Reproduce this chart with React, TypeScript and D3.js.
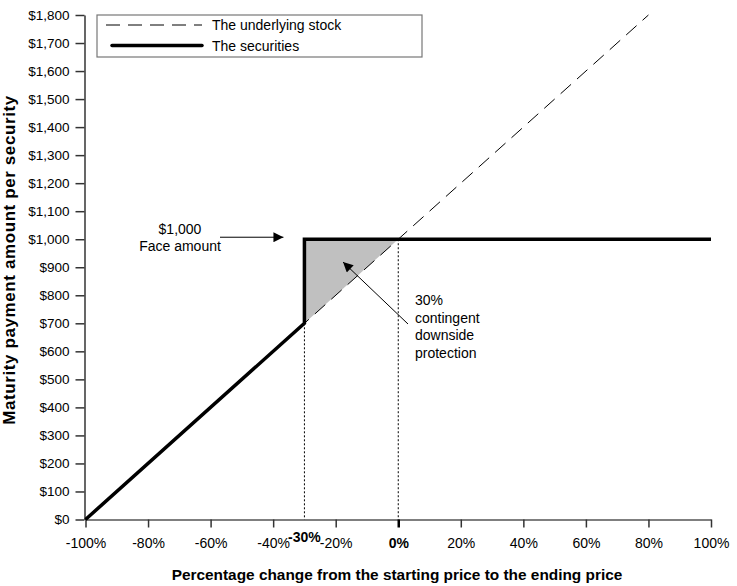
import React, { useEffect, useRef } from 'react';
import * as d3 from 'd3';

// Percentage change of the stock (x) and maturity payment (y)
const stockX = [-100, 80];
const stockY = [0, 1800];
const securitiesX = [-100, -30, -30, 100];
const securitiesY = [0, 700, 1000, 1000];
const protectionX = [-30, -30, 0];
const protectionY = [700, 1000, 1000];

const xTicks = [-100, -80, -60, -40, -20, 0, 20, 40, 60, 80, 100];
const yTicks = [0, 100, 200, 300, 400, 500, 600, 700, 800, 900, 1000, 1100, 1200, 1300, 1400, 1500, 1600, 1700, 1800];
const barrierX = -30;
const barrierY = 700;
const faceAmount = 1000;

const legendItems = ['The underlying stock', 'The securities'];
const protectionText = ['30%', 'contingent', 'downside', 'protection'];

const FONT = "'Liberation Sans', Arial, sans-serif";

export default function App() {
  const svgRef = useRef<SVGSVGElement>(null);

  useEffect(() => {
    if (!svgRef.current) return;
    const svg = d3.select(svgRef.current);
    svg.selectAll('*').remove();

    const x = d3.scaleLinear().domain([-100, 100]).range([85.5, 711]);
    const y = d3.scaleLinear().domain([0, 1800]).range([519.5, 15]);

    svg.append('rect').attr('width', 737).attr('height', 586).attr('fill', '#fff');

    const defs = svg.append('defs');
    defs.append('marker')
      .attr('id', 'arrow')
      .attr('viewBox', '0 0 10 10')
      .attr('refX', 10)
      .attr('refY', 5)
      .attr('markerWidth', 17)
      .attr('markerHeight', 10)
      .attr('markerUnits', 'userSpaceOnUse')
      .attr('orient', 'auto')
      .append('path')
      .attr('d', 'M0,0 L10,5 L0,10 Z')
      .attr('fill', '#000');

    // Shaded protection area
    const area = d3.line<number>()
      .x((_, i) => x(protectionX[i]))
      .y(d => y(d));
    svg.append('path')
      .attr('d', area(protectionY) + 'Z')
      .attr('fill', '#c0c0c0');

    // Dotted reference lines
    [barrierX, 0].forEach(v => {
      svg.append('line')
        .attr('x1', x(v)).attr('x2', x(v))
        .attr('y1', y(v === 0 ? faceAmount : barrierY)).attr('y2', y(0))
        .attr('stroke', '#000')
        .attr('stroke-width', 1)
        .attr('stroke-dasharray', '2,2');
    });

    // Axes
    const yAxis = svg.append('g')
      .attr('transform', `translate(${x(-100) - 1},0)`)
      .call(d3.axisLeft(y).tickValues(yTicks).tickSize(9).tickSizeOuter(0)
        .tickFormat(d => '$' + d3.format(',')(d as number)));
    yAxis.select('.domain').attr('stroke', '#000').attr('stroke-width', 1.2);
    yAxis.selectAll('.tick line').attr('stroke', '#333').attr('stroke-width', 1.5);
    yAxis.selectAll('.tick text')
      .attr('x', -15)
      .attr('fill', '#000')
      .style('font-family', FONT)
      .style('font-size', '13.5px');

    const xAxis = svg.append('g')
      .attr('transform', `translate(0,${y(0)})`)
      .call(d3.axisBottom(x).tickValues(xTicks).tickSize(8).tickSizeOuter(0)
        .tickFormat(d => `${d}%`));
    xAxis.select('.domain').attr('stroke', '#000').attr('stroke-width', 1.2);
    xAxis.selectAll('.tick line').attr('stroke', '#333').attr('stroke-width', 1.5);
    xAxis.selectAll('.tick text')
      .attr('y', 19)
      .attr('fill', '#000')
      .style('font-family', FONT)
      .style('font-size', '14px')
      .style('font-weight', d => ((d as number) === 0 ? 'bold' : 'normal'));
    xAxis.selectAll('.tick line').filter(d => (d as number) === 0).attr('stroke', '#000').attr('stroke-width', 2.5);

    // -30% label
    svg.append('text')
      .attr('x', x(barrierX))
      .attr('y', y(0) + 22.5)
      .attr('text-anchor', 'middle')
      .style('font-family', FONT)
      .style('font-size', '14px')
      .style('font-weight', 'bold')
      .text(`${barrierX}%`);

    // Lines
    svg.append('path')
      .attr('d', d3.line<number>().x((_, i) => x(stockX[i])).y(d => y(d))(stockY))
      .attr('fill', 'none')
      .attr('stroke', '#000')
      .attr('stroke-width', 1)
      .attr('stroke-dasharray', '14,8');

    svg.append('path')
      .attr('d', d3.line<number>().x((_, i) => x(securitiesX[i])).y(d => y(d))(securitiesY))
      .attr('fill', 'none')
      .attr('stroke', '#000')
      .attr('stroke-width', 3.5)
      .attr('stroke-linejoin', 'miter');

    // Annotations
    svg.append('line')
      .attr('x1', 220).attr('y1', y(faceAmount) - 2)
      .attr('x2', x(barrierX) - 21).attr('y2', y(faceAmount) - 2)
      .attr('stroke', '#000').attr('stroke-width', 1)
      .attr('marker-end', 'url(#arrow)');
    const faceLabel = svg.append('text')
      .attr('text-anchor', 'middle')
      .style('font-family', FONT)
      .style('font-size', '14px');
    faceLabel.append('tspan').attr('x', 180).attr('y', 234).text('$1,000');
    faceLabel.append('tspan').attr('x', 180).attr('y', 251).text('Face amount');

    svg.append('line')
      .attr('x1', 408).attr('y1', 324)
      .attr('x2', 343).attr('y2', 262)
      .attr('stroke', '#000').attr('stroke-width', 1)
      .attr('marker-end', 'url(#arrow)');
    const protLabel = svg.append('text')
      .style('font-family', FONT)
      .style('font-size', '14px');
    protectionText.forEach((t, i) => {
      protLabel.append('tspan').attr('x', 415).attr('y', 305 + i * 17.5).text(t);
    });

    // Legend
    const lg = svg.append('g');
    lg.append('rect')
      .attr('x', 97).attr('y', 15).attr('width', 325).attr('height', 42)
      .attr('fill', '#fff').attr('stroke', '#777').attr('stroke-width', 1.2);
    legendItems.forEach((label, i) => {
      const ly = 25 + i * 20.5;
      lg.append('line')
        .attr('x1', i === 0 ? 106 : 112).attr('x2', 202)
        .attr('y1', ly).attr('y2', ly)
        .attr('stroke', '#000')
        .attr('stroke-width', i === 0 ? 1 : 3.5)
        .attr('stroke-linecap', i === 0 ? 'butt' : 'round')
        .attr('stroke-dasharray', i === 0 ? '14,8' : null);
      lg.append('text')
        .attr('x', 212).attr('y', ly + 5)
        .style('font-family', FONT)
        .style('font-size', '14px')
        .text(label);
    });

    // Axis titles
    svg.append('text')
      .attr('x', 397).attr('y', 580)
      .attr('text-anchor', 'middle')
      .style('font-family', FONT)
      .style('font-size', '15.4px')
      .style('font-weight', 'bold')
      .text('Percentage change from the starting price to the ending price');

    svg.append('text')
      .attr('transform', 'translate(15,260) rotate(-90)')
      .attr('text-anchor', 'middle')
      .style('font-family', FONT)
      .style('font-size', '17px')
      .style('font-weight', 'bold')
      .style('letter-spacing', '0.6px')
      .text('Maturity payment amount per security');
  }, []);

  return (
    <svg
      ref={svgRef}
      width={737}
      height={586}
      style={{ position: 'absolute', top: 0, left: 0, display: 'block' }}
    />
  );
}
